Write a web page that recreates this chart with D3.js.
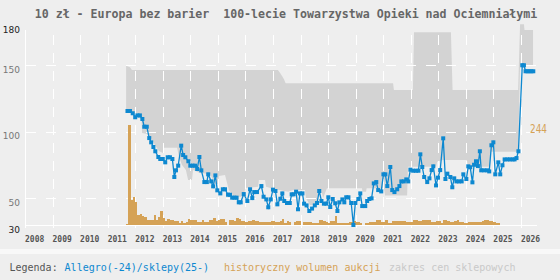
<!DOCTYPE html>
<html><head><meta charset="utf-8">
<script src="https://cdn.jsdelivr.net/npm/d3@7"></script>
<style>
html,body{margin:0;padding:0;background:#eeeeee;}
svg{display:block;}
</style></head><body>
<svg id="c" width="560" height="280"></svg>
<script>
const title = "10 zł - Europa bez barier  100-lecie Towarzystwa Opieki nad Ociemniałymi";
const yearTicks = [2008,2009,2010,2011,2012,2013,2014,2015,2016,2017,2018,2019,2020,2021,2022,2023,2024,2025,2026];
const priceTicks = [30,50,100,150,180];
const priceGrid = [50,100,150];

// Allegro / shop price series (decimal year, zł)
const priceDates = [
2011.72,2011.81,2011.91,2012.00,2012.08,2012.17,2012.26,2012.33,2012.42,2012.51,2012.58,2012.66,2012.73,2012.84,2012.91,
2013.00,2013.09,2013.18,2013.26,2013.35,2013.42,2013.48,2013.56,2013.67,2013.74,2013.82,2013.93,
2014.00,2014.08,2014.17,2014.25,2014.33,2014.40,2014.51,2014.60,2014.65,2014.76,2014.83,2014.91,2014.98,
2015.09,2015.18,2015.26,2015.37,2015.44,2015.52,2015.60,2015.68,2015.76,2015.83,2015.94,
2016.07,2016.17,2016.25,2016.32,2016.42,2016.58,2016.66,2016.76,2016.83,2016.92,
2017.00,2017.09,2017.16,2017.27,2017.34,2017.41,2017.51,2017.61,2017.68,2017.75,2017.84,2017.91,2017.98,
2018.07,2018.13,2018.22,2018.32,2018.42,2018.52,2018.60,2018.68,2018.76,2018.85,2018.94,
2019.01,2019.08,2019.17,2019.26,2019.34,2019.41,2019.52,2019.59,2019.66,2019.74,2019.84,2019.92,2019.99,
2020.10,2020.17,2020.24,2020.35,2020.42,2020.50,2020.58,2020.66,2020.75,2020.82,2020.93,
2021.01,2021.08,2021.15,2021.26,2021.33,2021.41,2021.51,2021.59,2021.66,2021.75,2021.84,2021.91,2021.99,
2022.09,2022.19,2022.28,2022.35,2022.42,2022.49,2022.60,2022.68,2022.76,2022.82,2022.92,2022.99,
2023.07,2023.18,2023.26,2023.33,2023.44,2023.51,2023.58,2023.66,2023.75,2023.85,2023.91,
2024.02,2024.09,2024.16,2024.24,2024.30,2024.37,2024.44,2024.51,2024.56,2024.67,2024.78,2024.85,2024.93,
2025.00,2025.07,2025.18,2025.25,2025.33,2025.41,2025.51,2025.60,2025.70,2025.77,2025.84,2025.91,
2026.05,2026.11,2026.17,2026.24,2026.31,2026.38,2026.45];
const prices = [
115.5,115.5,113.8,110.8,112.2,112.2,109.5,103.7,103.7,95.2,92,88.5,85.3,81,79.5,
79.5,77,80.8,80.8,79.5,66,71,74.5,89.5,82.5,80.8,77.8,
74.5,74.5,74.5,72,81,71,62.2,62.2,68,62.7,59,67.2,56,
53.7,56.8,56.8,52.7,52.7,50.5,50.5,50.5,47,47,53.2,
48,56.8,50.2,54.7,54.7,59.2,51.2,49.2,43.3,49.2,
56.5,55.5,45.5,49.7,53.7,48,46.5,46.5,53,53,55,41.8,53.7,
53.7,46,44.7,40.5,42.3,44.7,46.5,55.5,48,46,46,
50.8,43.5,49.5,46.3,40.5,47,49.2,47,50.8,50.8,46.5,30,46.5,
49.5,53.7,44.2,44.2,48,49.5,50,61.2,62.2,56.2,55.2,
68,68,59.2,73.5,56.2,54.7,56.8,59.2,62.7,62.7,64.2,62.7,71.5,
70.7,70.7,70.7,83,73.5,66,62.2,65,71.2,74,59.7,65.5,
71.2,95,64.5,68.5,66,58.3,65,62.7,62.7,62.7,68,
64.5,74,73.3,62,75.2,77.8,74.2,85.3,71,71,71,70.2,89.8,
92,68,77,68,74.8,79.2,79.2,79.2,79.2,79.2,80.2,85.3,
149.8,149.8,145.3,145.3,145.3,145.3,145.3];

// shop price range (upper and lower edge)
const bandTopDates = [2011.67,2011.81,2011.88,2017.18,2017.26,2017.33,2017.40,2017.46,2021.36,2021.39,2022.08,2022.12,2023.46,2023.52,2025.90,2025.97,2026.11,2026.13,2026.44];
const bandTop      = [149.5,148.3,146.2,146.2,144,141.7,139.3,136.3,136.3,131.2,131.2,174.5,174.5,131.2,131.2,180.5,180.5,176.2,176.2];
const bandBottomDates = [2011.67,2011.88,2012.10,2012.23,2012.25,2012.43,2012.57,2012.72,2012.86,2013.01,2013.05,2013.52,2013.59,2013.70,2013.84,2013.92,
2014.06,2014.10,2014.35,2014.72,2014.79,2014.86,2015.01,2015.04,2015.26,2015.40,2015.59,2015.95,2015.99,2016.46,2016.49,2016.71,2016.75,2016.97,
2017.22,2017.55,2017.73,2018.16,2018.20,2018.34,2018.60,2018.64,2018.78,2018.82,2018.96,2020.23,2020.25,2020.38,2020.40,2021.03,2021.07,2021.87,
2021.90,2022.92,2022.96,2023.17,2024.04,2024.08,2024.88,2024.91,2025.90,2025.97,2026.44];
const bandBottom = [115.5,114.7,111,108.7,99,98.2,95.2,90,85.5,84,88,88,81,75,71.2,63.7,
63.7,71.2,69,68.2,65.2,60.7,60.7,66.7,67.5,56.2,51.2,51.2,57.7,58.7,63.7,63.7,58.7,57.4,
56.2,55,56.2,56.2,50,45,45,54,54,50.2,57.5,57.5,55,55,57.5,57.5,52.1,52.1,
73.7,73.7,77.5,78.7,78.7,73.7,73.7,85,85,149.8,149.8];

// monthly auction volume, starting September 2011
const volumeStart = [2011, 9];
const volume = [
3,244,61,68,56,24,26,22,20,12,12,12,24,12,20,34,17,10,14,12,12,10,10,4,10,4,8,15,12,12,
12,8,8,12,7,7,12,12,17,10,12,15,15,7,0,12,12,10,16,14,10,10,8,10,10,12,10,10,7,7,
7,7,7,10,10,7,7,10,15,5,9,8,0,7,10,10,0,7,7,7,7,6,6,6,12,12,9,8,6,10,
10,23,5,5,6,6,6,8,8,10,8,8,4,0,6,6,8,8,8,12,12,8,8,11,6,6,10,10,10,10,
10,10,8,8,8,12,12,10,10,12,12,12,12,8,8,10,10,6,12,12,10,8,8,10,12,8,8,5,6,8,
7,7,8,8,8,10,12,12,10,10,8,5,5];
const volumeMaxLabel = "244";

const legendLabel = "Legenda:";
const legendItems = ["Allegro(-24)/sklepy(25-)", "historyczny wolumen aukcji", "zakres cen sklepowych"];

const C = {bg:"#eeeeee", band:"#d3d3d3", blue:"#0d88d0", orange:"#d5a256", grid:"#ffffff"};

const svg = d3.select("#c");
const x = d3.scaleLinear().domain([2008, 2026]).range([25, 520.9]);
const y = d3.scaleLinear().domain([30, 180]).range([225, 25]);
const vol = d3.scaleLinear().domain([0, 244]).range([0, 100]);
const plotRight = 537;

// backgrounds
svg.append("rect").attr("x",0).attr("y",0).attr("width",560).attr("height",249).attr("fill",C.bg);
svg.append("rect").attr("x",0).attr("y",249).attr("width",560).attr("height",5).attr("fill","#f8f8f8");
svg.append("rect").attr("x",0).attr("y",254).attr("width",560).attr("height",26).attr("fill",C.bg);

// shop price band
const topPts = bandTopDates.map((d,i)=>[d, bandTop[i]]);
const botPts = bandBottomDates.map((d,i)=>[d, bandBottom[i]]).reverse();
const bandLine = d3.line().x(d=>x(d[0])).y(d=>y(d[1]));
svg.append("path").attr("d", bandLine(topPts.concat(botPts)) + "Z").attr("fill", C.band);

// grid
const g = svg.append("g").attr("stroke", C.grid).attr("stroke-width",1).attr("fill","none");
priceGrid.forEach(v=>{
  const yy = Math.round(y(v)) + 0.5;
  g.append("line").attr("x1",26).attr("x2",plotRight).attr("y1",yy).attr("y2",yy).attr("stroke-dasharray","10,10");
});
yearTicks.slice(1).forEach(t=>{
  const xx = Math.round(x(t)) + 0.5;
  g.append("line").attr("x1",xx).attr("x2",xx).attr("y1",225).attr("y2",35).attr("stroke-dasharray","10,8");
  g.append("line").attr("x1",xx).attr("x2",xx).attr("y1",225).attr("y2",228);
});
g.append("line").attr("x1",25.5).attr("x2",25.5).attr("y1",30).attr("y2",228);
g.append("line").attr("x1",25).attr("x2",plotRight).attr("y1",225.5).attr("y2",225.5);

// volume bars
const v0 = volumeStart[0] + (volumeStart[1]-1)/12;
svg.append("g").selectAll("rect").data(volume).join("rect")
  .attr("x",(d,i)=>x(v0 + i/12))
  .attr("width",(d,i)=>x(v0 + (i+1)/12) - x(v0 + i/12))
  .attr("y",d=>225 - vol(d))
  .attr("height",d=>vol(d))
  .attr("fill",C.orange)
  .attr("shape-rendering","crispEdges");

// price line
const pts = priceDates.map((d,i)=>[d, prices[i]]);
svg.append("path").attr("d", d3.line().x(d=>x(d[0])).y(d=>y(d[1]))(pts))
  .attr("fill","none").attr("stroke",C.blue).attr("stroke-width",1.3);
svg.append("g").selectAll("rect").data(pts).join("rect")
  .attr("x",d=>x(d[0])-2).attr("y",d=>y(d[1])-2).attr("width",4).attr("height",4)
  .attr("fill",C.blue);

// volume max label
svg.append("text").attr("x",530).attr("y",133).text(volumeMaxLabel)
  .attr("font-family","DejaVu Sans").attr("font-size",12).attr("fill",C.orange)
  .attr("textLength",17).attr("lengthAdjust","spacingAndGlyphs");

// title
svg.append("text").attr("x",286).attr("y",17.5).attr("text-anchor","middle")
  .style("white-space","pre").attr("xml:space","preserve")
  .attr("font-family","DejaVu Sans Mono").attr("font-weight","bold").attr("font-size",11.6)
  .attr("fill","#666").text(title);

// y labels
svg.append("g").selectAll("text").data(priceTicks).join("text")
  .attr("x",20).attr("y",d=>y(d)+7.5).attr("text-anchor","end")
  .attr("font-family","DejaVu Sans").attr("font-size",9)
  .attr("fill",d=> (d===30||d===180) ? "#222" : "#777")
  .text(d=>d);

// x labels
svg.append("g").selectAll("text").data(yearTicks).join("text")
  .attr("x",d=>x(d)).attr("y",242).attr("text-anchor","start")
  .attr("font-family","DejaVu Sans Mono").attr("font-weight","bold").attr("font-size",8)
  .attr("fill","#555").text(d=>d);

// legend
const lg = svg.append("g").attr("font-family","DejaVu Sans Mono").attr("font-size",10);
lg.append("text").attr("x",9.5).attr("y",271).attr("fill","#555").text(legendLabel);
const legendX = [64.6, 224, 389];
const legendColors = [C.blue, C.orange, "#c9c9c9"];
legendItems.forEach((t,i)=>{
  lg.append("text").attr("x",legendX[i]).attr("y",271).attr("fill",legendColors[i]).text(t);
});
</script>
</body></html>
